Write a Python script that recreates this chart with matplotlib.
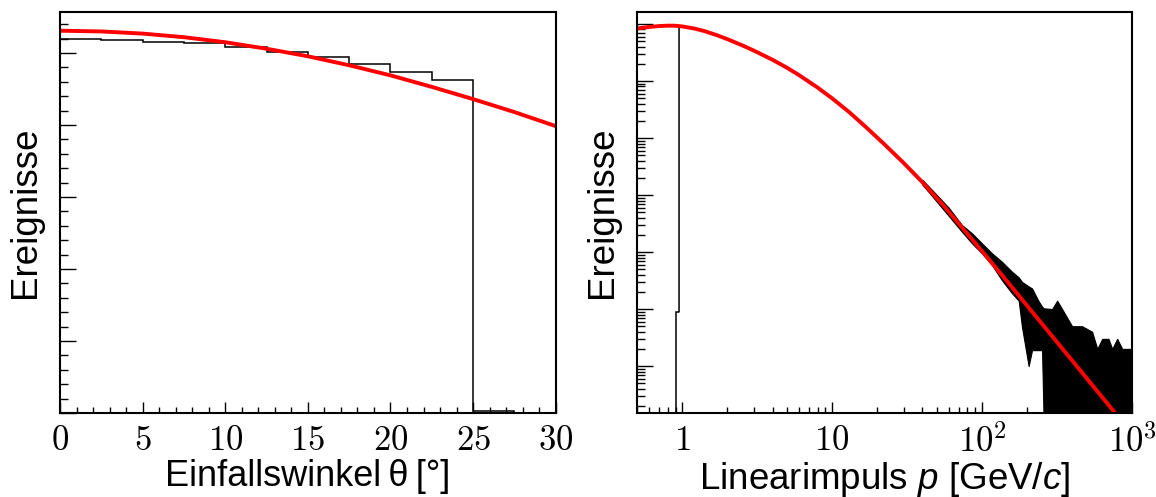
# angle and momentum distributions of the simulated muons, with fits

import matplotlib
matplotlib.use('Agg')
import matplotlib.pyplot as plt
import numpy as np
from matplotlib.ticker import MultipleLocator, LogLocator, NullFormatter, FixedLocator, FixedFormatter

plt.rcParams['font.family'] = ['Liberation Sans', 'DejaVu Sans']
plt.rcParams['mathtext.fontset'] = 'custom'
plt.rcParams['mathtext.rm'] = 'cmr10'
plt.rcParams['mathtext.it'] = 'Liberation Sans:italic'

# --- zenith angle histogram (2.5 deg bins) and cos^2 fit
theta_edges = [0, 2.5, 5, 7.5, 10, 12.5, 15, 17.5, 20, 22.5, 25, 27.5, 30]
theta_counts = [5190, 5180, 5160, 5140, 5080, 5020, 4940, 4850, 4740, 4620, 25, 0]
theta_fit_x = [0, 2.5, 5, 7.5, 10, 12.5, 15, 17.5, 20, 22.5, 25, 27.5, 30]
theta_fit_y = [5310, 5300, 5270, 5220, 5150, 5060, 4955, 4830, 4690, 4530, 4360, 4180, 3985]
theta_ticks = [0, 5, 10, 15, 20, 25, 30]

# --- momentum spectrum
# threshold bins below ~1 GeV/c
low_edges = [0.5, 0.90, 0.95]
low_counts = [0, 9]
# well populated region, follows the fit
hist_p = [0.95, 0.95, 1.0, 1.2, 1.4, 1.7, 2.0, 2.5, 3.0, 4.0, 5.0, 6.0, 8.0, 10, 13, 17, 22,
          30, 40]
hist_n = [9, 9.1e5, 9.04e5, 8.31e5, 7.51e5, 6.35e5, 5.40e5, 4.23e5, 3.41e5, 2.35e5, 1.70e5,
          1.27e5, 7.65e4, 4.95e4, 2.84e4, 1.51e4, 8.04e3, 3.65e3, 1.68e3]
# low statistics tail: upper and lower edge of the bin contents
band_p = [40, 46, 60, 73.5, 85.8, 100, 116.7, 136, 159, 176, 185, 205, 216, 238, 252, 259,
          294, 318, 343, 400, 466, 544, 589, 635, 700, 741, 800, 864, 930, 1000]
band_hi = [1.85e3, 1.26e3, 600, 298, 213, 142, 95, 67.6, 45, 36, 30, 25, 23, 14, 11, 10.3,
           10, 14, 10, 5, 5, 4, 2, 3, 3, 2, 3, 2, 2, 2]
band_lo = [1.52e3, 0.99e3, 430, 227, 142, 95, 59, 32, 18.8, 14, 4.9, 1, 1.9, 1.9, 1.9, 0,
           0, 0, 0, 0, 0, 0, 0, 0, 0, 0, 0, 0, 0, 0]

p_fit = [0.5, 0.6, 0.7, 0.8, 0.9, 1.0, 1.2, 1.4, 1.7, 2.0, 2.5, 3.0, 4.0, 5.0, 6.0, 8.0, 10,
         13, 17, 22, 30, 40, 55, 75, 100, 140, 200, 300, 450, 650, 850]
n_fit = [8.30e5, 8.86e5, 9.18e5, 9.33e5, 9.30e5, 9.04e5, 8.31e5, 7.51e5, 6.35e5, 5.40e5,
         4.23e5, 3.41e5, 2.35e5, 1.70e5, 1.27e5, 7.65e4, 4.95e4, 2.84e4, 1.51e4, 8.04e3,
         3.65e3, 1.68e3, 668, 254, 104, 36.0, 11.5, 3.14, 0.858, 0.264, 0.112]
p_ticks = [1, 10, 100, 1000]
p_tick_labels = ['$1$', '$10$', '$10^2$', '$10^3$']

fig = plt.figure(figsize=(11.56, 4.97), dpi=100)
ax1 = fig.add_axes([60 / 1156, 84 / 497, 495.7 / 1156, 401 / 497])
ax2 = fig.add_axes([637.3 / 1156, 84.3 / 497, 494.4 / 1156, 400.7 / 497])

# left: angle
ax1.stairs(theta_counts, theta_edges, color='k', lw=1.1)
ax1.plot(theta_fit_x, theta_fit_y, color='red', lw=2.8)
ax1.set_xlim(0, 30)
ax1.set_ylim(0, 5570)
ax1.xaxis.set_major_locator(FixedLocator(theta_ticks))
ax1.xaxis.set_major_formatter(FixedFormatter(['$%d$' % t for t in theta_ticks]))
ax1.xaxis.set_minor_locator(MultipleLocator(1))
ax1.yaxis.set_major_locator(MultipleLocator(1000))
ax1.yaxis.set_minor_locator(MultipleLocator(200))
ax1.set_xlabel('Einfallswinkel\u2009θ\u2009[°]', fontsize=26, labelpad=1)

# right: momentum
y_lo, y_hi = 0.152, 1.62e6
floor = y_lo * 0.5
ax2.stairs(np.maximum(low_counts, floor), low_edges, color='k', lw=1.1, baseline=None)
ax2.plot(hist_p, hist_n, color='k', lw=1.1)
ax2.fill_between(band_p, np.maximum(band_lo, floor), band_hi, color='k', lw=0.8)
ax2.plot(p_fit, n_fit, color='red', lw=2.8)
ax2.set_xscale('log')
ax2.set_yscale('log')
ax2.set_xlim(0.5, 1000)
ax2.set_ylim(y_lo, y_hi)
ax2.xaxis.set_major_locator(FixedLocator(p_ticks))
ax2.xaxis.set_major_formatter(FixedFormatter(p_tick_labels))
ax2.xaxis.set_minor_locator(LogLocator(base=10, subs=np.arange(2, 10), numticks=20))
ax2.xaxis.set_minor_formatter(NullFormatter())
ax2.yaxis.set_major_locator(LogLocator(base=10, numticks=20))
ax2.yaxis.set_minor_locator(LogLocator(base=10, subs=np.arange(2, 10), numticks=20))
ax2.yaxis.set_minor_formatter(NullFormatter())
ax2.set_xlabel('Linearimpuls $p$ [GeV/$c$]', fontsize=26.5, labelpad=1)

for ax in (ax1, ax2):
    for s in ax.spines.values():
        s.set_linewidth(1.5)
    ax.tick_params(which='both', direction='in', top=False, right=False, width=1.0)
    ax.tick_params(axis='y', which='major', length=11.3, labelleft=False)
    ax.tick_params(axis='y', which='minor', length=5.5)
    ax.tick_params(axis='x', which='major', length=7.9, labelsize=25, pad=8)
    ax.tick_params(axis='x', which='minor', length=4.3)
    ax.set_ylabel('Ereignisse', fontsize=26.5, labelpad=9)

fig.savefig('out.png', dpi=100)
